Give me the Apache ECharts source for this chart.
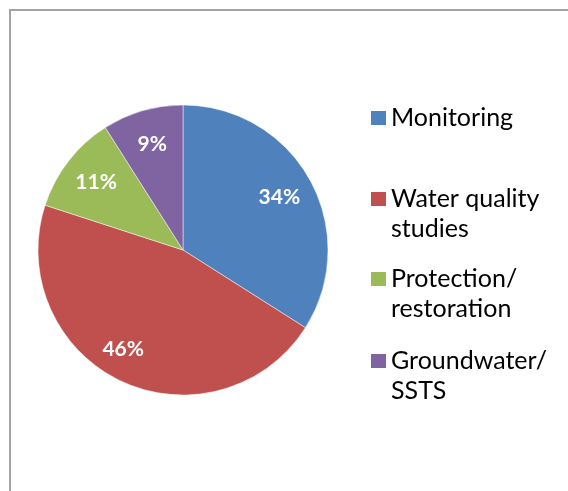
<!DOCTYPE html>
<html><head><meta charset="utf-8">
<script src="https://cdn.jsdelivr.net/npm/echarts@6/dist/echarts.min.js"></script>
<style>html,body{margin:0;padding:0;background:#fff}#c{width:568px;height:491px}</style>
</head><body><div id="c"></div>
<script>
// ---- data ----
const categories = ['Monitoring', 'Water quality studies', 'Protection/ restoration', 'Groundwater/ SSTS'];
const legendLabels = ['Monitoring', 'Water quality\nstudies', 'Protection/\nrestoration', 'Groundwater/\nSSTS'];
const shares = [34, 46, 11, 9];

// ---- styles ----
const colors = ['#4F81BD', '#C0504D', '#9BBB59', '#8064A2'];
const legendTops = [73, 154, 234, 316];
const labelPads = [[0, 0, 0, 0], [0, 26, 16, 0], [0, 0, 0, 0], [0, 0, 10, 0]];

const chart = echarts.init(document.getElementById('c'), null, {renderer: 'canvas'});
const pieData = categories.map((n, i) => ({name: n, value: shares[i], itemStyle: {color: colors[i]}}));
const labelData = categories.map((n, i) => ({name: n, value: shares[i], label: {padding: labelPads[i]}}));

chart.setOption({
  animation: false,
  backgroundColor: '#fff',
  graphic: [{
    type: 'rect', silent: true,
    shape: {x: 10, y: 10, width: 700, height: 700},
    style: {fill: 'none', stroke: '#a3a3a3', lineWidth: 2}
  }],
  legend: categories.map((name, i) => ({
    left: 371, top: legendTops[i], padding: 0, orient: 'vertical',
    itemWidth: 15, itemHeight: 14, itemGap: 0, icon: 'rect',
    selectedMode: false, data: [name],
    itemStyle: {borderWidth: 0},
    formatter: () => '\n' + legendLabels[i] + (legendLabels[i].indexOf('\n') >= 0 ? '' : '\n'),
    textStyle: {fontFamily: 'Lato', fontSize: 25, lineHeight: 30, color: '#000'}
  })),
  series: [{
    type: 'pie', silent: true, center: [183, 250], radius: 145, startAngle: 90, clockwise: true,
    label: {show: false}, labelLine: {show: false},
    itemStyle: {borderColor: 'rgba(255,255,255,0.6)', borderWidth: 0.8},
    emphasis: {disabled: true},
    data: pieData
  }, {
    type: 'pie', silent: true, center: [183, 250], radius: [69, 145], startAngle: 90, clockwise: true,
    itemStyle: {color: 'rgba(0,0,0,0)'},
    emphasis: {disabled: true},
    label: {show: true, position: 'inside', formatter: p => p.value + '%',
            fontFamily: 'Lato', fontWeight: 'bold', fontSize: 21, color: '#fff'},
    labelLine: {show: false},
    data: labelData
  }]
});
</script></body></html>
